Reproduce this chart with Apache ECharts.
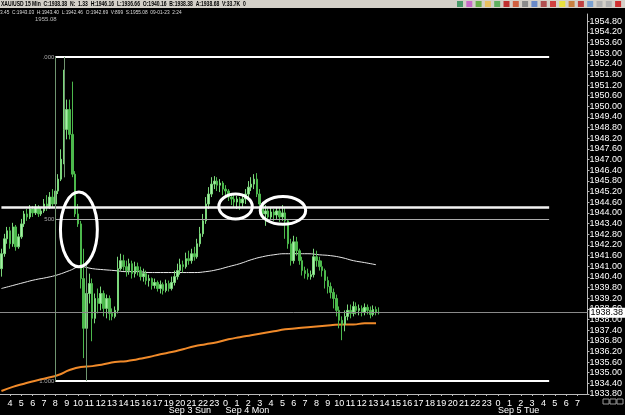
<!DOCTYPE html>
<html><head><meta charset="utf-8">
<script src="https://cdn.jsdelivr.net/npm/echarts@6/dist/echarts.min.js"></script>
<style>html,body{margin:0;padding:0;background:#000;}#c{width:625px;height:415px;}</style>
</head><body><div id="c"></div>
<script>
// ---- tick labels ----
const hourTicks = [4,5,6,7,8,9,10,11,12,13,14,15,16,17,19,20,21,22,23,
  0,1,2,3,4,5,6,7,8,9,10,11,12,13,14,15,16,17,18,19,20,21,22,23,
  0,1,2,3,4,5,6,7];
const dayLabels = ['Sep 3 Sun','Sep 4 Mon','Sep 5 Tue'];
const dayStartTick = [14, 19, 43];
const yMin = 1933.8, yMax = 1955.2, yStep = 0.6;

// ---- 15-min candles ----
const openP = [
1940.86,1941.70,1942.54,1942.99,1942.26,1943.21,1942.09,1942.65,1943.38,1943.94,
1943.77,1944.22,1944.00,1944.33,1943.94,1944.11,1944.50,1944.33,1944.89,1944.50,
1945.23,1945.90,1947.02,1948.70,1949.82,1948.42,1946.18,1943.94,1943.38,1940.30,
1937.50,1939.46,1940.02,1938.06,1939.18,1938.90,1939.46,1938.62,1939.18,1938.34,
1938.17,1938.51,1940.86,1941.31,1940.97,1940.75,1941.14,1940.58,1940.97,1940.75,
1940.41,1940.58,1940.19,1940.30,1939.91,1940.08,1939.74,1939.96,1939.63,1940.02,
1939.74,1940.08,1940.41,1940.75,1941.08,1940.97,1941.42,1941.31,1941.70,1941.53,
1942.26,1942.82,1943.55,1944.50,1945.06,1945.62,1945.79,1945.56,1945.68,1945.34,
1945.23,1944.89,1944.78,1944.61,1944.78,1944.56,1944.78,1945.06,1945.45,1945.62,
1945.90,1945.06,1944.50,1943.94,1944.11,1943.77,1944.05,1943.88,1944.11,1943.77,
1944.00,1943.55,1942.26,1941.31,1942.37,1941.87,1941.31,1940.75,1940.58,1940.41,
1940.52,1941.53,1941.31,1940.97,1940.75,1940.19,1939.85,1939.52,1939.18,1938.51,
1937.95,1937.72,1938.17,1938.51,1938.34,1938.73,1938.51,1938.62,1938.40,1938.68,
1938.51,1938.28,1938.56,1938.40];
const closeP = [
1941.70,1942.54,1942.99,1942.26,1943.21,1942.09,1942.65,1943.38,1943.94,1943.77,
1944.22,1944.00,1944.33,1943.94,1944.11,1944.50,1944.33,1944.89,1944.50,1945.23,
1945.90,1947.02,1948.70,1949.82,1948.42,1946.18,1943.94,1943.38,1940.30,1937.50,
1939.46,1940.02,1938.06,1939.18,1938.90,1939.46,1938.62,1939.18,1938.34,1938.17,
1938.51,1940.86,1941.31,1940.97,1940.75,1941.14,1940.58,1940.97,1940.75,1940.41,
1940.58,1940.19,1940.30,1939.91,1940.08,1939.74,1939.96,1939.63,1940.02,1939.74,
1940.08,1940.41,1940.75,1941.08,1940.97,1941.42,1941.31,1941.70,1941.53,1942.26,
1942.82,1943.55,1944.50,1945.06,1945.62,1945.79,1945.56,1945.68,1945.34,1945.23,
1944.89,1944.78,1944.61,1944.78,1944.56,1944.78,1945.06,1945.45,1945.62,1945.90,
1945.06,1944.50,1943.94,1944.11,1943.77,1944.05,1943.88,1944.11,1943.77,1944.00,
1943.55,1942.26,1941.31,1942.37,1941.87,1941.31,1940.75,1940.58,1940.41,1940.52,
1941.53,1941.31,1940.97,1940.75,1940.19,1939.85,1939.52,1939.18,1938.51,1937.95,
1937.72,1938.17,1938.51,1938.34,1938.73,1938.51,1938.62,1938.40,1938.68,1938.51,
1938.28,1938.56,1938.40,1938.38];
const lowP = [
1940.41,1941.53,1942.26,1941.98,1942.09,1941.87,1941.98,1942.54,1943.21,1943.55,
1943.66,1943.77,1943.88,1943.77,1943.83,1944.00,1944.11,1944.22,1944.33,1944.39,
1945.06,1945.79,1946.74,1948.14,1948.14,1946.01,1943.77,1943.21,1939.74,1935.82,
1936.94,1938.90,1936.77,1937.78,1938.34,1938.51,1938.17,1938.06,1937.95,1937.95,
1938.06,1938.34,1940.75,1940.75,1940.41,1940.52,1940.30,1940.36,1940.47,1940.19,
1940.13,1939.96,1939.85,1939.68,1939.74,1939.57,1939.46,1939.40,1939.52,1939.57,
1939.63,1939.91,1940.24,1940.52,1940.64,1940.86,1941.08,1941.14,1941.31,1941.42,
1942.09,1942.65,1943.38,1944.22,1944.89,1945.34,1945.23,1945.17,1945.00,1944.89,
1944.67,1944.44,1944.33,1944.22,1944.16,1944.33,1944.50,1944.78,1945.23,1945.34,
1944.89,1944.05,1943.66,1943.27,1943.55,1943.60,1943.55,1943.66,1943.49,1943.55,
1942.54,1941.98,1941.03,1941.14,1941.59,1941.08,1940.47,1940.30,1940.24,1940.24,
1940.36,1940.97,1940.75,1940.41,1939.74,1939.46,1939.18,1938.62,1938.17,1937.50,
1936.83,1937.33,1937.95,1938.06,1938.17,1938.28,1938.23,1938.17,1938.23,1938.28,
1938.06,1938.17,1938.23,1938.28];
const highP = [
1941.98,1942.82,1943.21,1943.21,1943.44,1943.32,1942.82,1943.66,1944.11,1944.22,
1944.44,1944.39,1944.50,1944.44,1944.33,1944.78,1945.00,1945.17,1945.34,1945.62,
1946.18,1947.58,1952.06,1950.38,1950.38,1951.39,1946.35,1944.50,1943.55,1941.98,
1940.02,1940.58,1940.30,1939.46,1939.74,1939.85,1939.63,1939.40,1939.35,1938.62,
1938.73,1941.53,1941.70,1941.64,1941.31,1941.42,1941.31,1941.25,1941.20,1940.97,
1940.86,1940.75,1940.52,1940.36,1940.30,1940.19,1940.19,1940.08,1940.24,1940.19,
1940.41,1940.75,1941.14,1941.42,1941.31,1941.76,1941.87,1941.98,1942.09,1942.54,
1943.21,1943.94,1944.89,1945.45,1946.01,1946.07,1946.01,1945.90,1945.79,1945.56,
1945.34,1945.06,1945.00,1944.95,1944.89,1945.00,1945.34,1945.79,1946.01,1946.18,
1946.24,1945.34,1944.61,1944.44,1944.33,1944.28,1944.22,1944.33,1944.28,1944.44,
1944.33,1943.66,1942.54,1942.71,1942.65,1941.98,1941.53,1940.97,1940.86,1940.75,
1941.98,1941.87,1941.53,1941.31,1940.86,1940.41,1940.08,1939.74,1939.40,1938.73,
1938.17,1938.51,1938.84,1938.84,1939.01,1938.96,1938.84,1938.79,1938.90,1938.84,
1938.73,1938.79,1938.73,1938.68];

// ---- moving averages, sampled once per hour ----
const maStep = 4;
const maWhite = [
1939.74,1939.91,1940.08,1940.24,1940.36,1940.52,1940.75,1940.97,1940.86,1940.80,
1940.75,1940.69,1940.69,1940.64,1940.64,1940.64,1940.64,1940.64,1940.69,1940.80,
1940.97,1941.14,1941.36,1941.53,1941.64,1941.70,1941.70,1941.70,1941.64,1941.59,
1941.48,1941.31,1941.20,1941.08];
const maOrange = [
1933.97,1934.20,1934.38,1934.55,1934.70,1934.87,1935.15,1935.32,1935.37,1935.48,
1935.60,1935.65,1935.76,1935.88,1936.04,1936.16,1936.32,1936.49,1936.60,1936.72,
1936.88,1937.00,1937.11,1937.22,1937.33,1937.44,1937.50,1937.56,1937.61,1937.67,
1937.72,1937.72,1937.78,1937.78];

// ---- drawing objects ----
const bidPrice = 1938.38;
const fibHigh = 1952.78, fibLow = 1934.53, fibMid = 1943.655;
const userLine = 1944.33;
const fibStart = 19, fibEnd = 193, userStart = 0;
const vLineSlots = [19, 22, 30];
const vLineFrom = [1952.78, 1952.78, 1941.25];
const vLineTo = [1934.53, 1946.0, 1934.53];
const ringSlot = [27.3, 82.5, 99.2];
const ringPrice = [1943.07, 1944.36, 1944.14];
const ringHalfSlots = [6.5, 5.9, 8.0];
const ringHalfPrice = [2.1, 0.7, 0.78];

const titleLine1 = 'XAU/USD 15 Min  C:1938.38  N:  1.33  H:1946.16  L:1936.66  O:1940.16  B:1938.38  A:1938.68  V:33.7K  0';
const titleLine2 = '3.45  C:1943.03  H:1943.40  L:1942.46  O:1942.69  V:899  S:1955.08  09-01-23  2:24';
const topPriceText = '1955.08';
const iconColors = ['#4a9a6a','#c86ac8','#6ab04a','#e8c060','#60b060','#c03030','#d06040','#8a8a8a','#6a8ac8','#b05050','#d04040','#e8e040','#c88040','#c04040','#7aa0d0','#b0b0b0','#b0b0b0','#d03030'];

const FONT = 'Liberation Sans';
const LEAD = 3, PER_HOUR = 4;
const nSlots = LEAD + hourTicks.length * PER_HOUR;
const slotKeys = [], slotLabel = [], slotDay = [];
for (let s = 0; s < nSlots; s++) { slotKeys.push('s' + s); slotLabel.push(''); slotDay.push(''); }
hourTicks.forEach((h, k) => { slotLabel[LEAD + k * PER_HOUR] = String(h); });
dayStartTick.forEach((t, k) => { slotDay[LEAD + t * PER_HOUR] = dayLabels[k]; });

const candles = openP.map((o, i) => [o, closeP[i], lowP[i], highP[i]]);

const fibLabel = (txt) => ({ show: true, position: 'start', formatter: txt, color: '#aaa', fontSize: 6, distance: 1, fontFamily: FONT });
const mlData = [
  [{ coord: [fibStart, fibHigh], lineStyle: { color: '#fff', width: 2 }, label: fibLabel('.000') }, { coord: [fibEnd, fibHigh] }],
  [{ coord: [fibStart, fibMid], lineStyle: { color: '#aaa', width: 1 }, label: fibLabel('500') }, { coord: [fibEnd, fibMid] }],
  [{ coord: [fibStart, fibLow], lineStyle: { color: '#fff', width: 2 }, label: fibLabel('1.000') }, { coord: [fibEnd, fibLow] }],
  [{ coord: [userStart, userLine], lineStyle: { color: '#f2f2f2', width: 2.5 } }, { coord: [fibEnd, userLine] }]
];
vLineSlots.forEach((s, k) => {
  mlData.push([{ coord: [s, vLineFrom[k]], lineStyle: { color: '#6f946f', width: 1 } }, { coord: [s, vLineTo[k]] }]);
});
mlData.push({ yAxis: bidPrice, lineStyle: { color: '#8a8a8a', width: 1 },
  label: { show: true, position: 'end', formatter: bidPrice.toFixed(2), backgroundColor: '#fff', color: '#000',
    fontSize: 9, padding: [1, 2, 0, 1], distance: 2, fontFamily: FONT } });

const chart = echarts.init(document.getElementById('c'));
chart.setOption({
  backgroundColor: '#000',
  animation: false,
  grid: { left: 0, right: 33, top: 14, bottom: 19 },
  xAxis: [
    { type: 'category', data: slotKeys, boundaryGap: true,
      axisLine: { show: true, lineStyle: { color: '#bbb', width: 1 } },
      axisTick: { show: true, length: 2, alignWithLabel: true, interval: (i) => slotLabel[i] !== '', lineStyle: { color: '#bbb' } },
      axisLabel: { interval: (i) => slotLabel[i] !== '', formatter: (v, i) => slotLabel[i], color: '#fff', fontSize: 9, margin: 5, fontFamily: FONT },
      splitLine: { show: false } },
    { type: 'category', data: slotKeys, position: 'bottom', boundaryGap: true,
      axisLine: { show: false }, axisTick: { show: false }, splitLine: { show: false },
      axisLabel: { interval: (i) => slotDay[i] !== '', formatter: (v, i) => slotDay[i], color: '#fff', fontSize: 9, margin: 12, align: 'left', fontFamily: FONT } }
  ],
  yAxis: { type: 'value', position: 'right', min: yMin, max: yMax, interval: yStep,
    axisLine: { show: true, lineStyle: { color: '#bbb' } },
    axisTick: { show: true, length: 2, lineStyle: { color: '#bbb' } },
    axisLabel: { color: '#fff', fontSize: 9, margin: 2, formatter: (v) => v.toFixed(2), showMaxLabel: false, fontFamily: FONT },
    splitLine: { show: false } },
  series: [
    { type: 'line', data: maWhite.map((v, k) => [k * maStep, v]), showSymbol: false, smooth: true,
      lineStyle: { color: '#e8e8e8', width: 1 }, z: 1 },
    { type: 'line', data: maOrange.map((v, k) => [k * maStep, v]), showSymbol: false, smooth: true,
      lineStyle: { color: '#f08a2a', width: 2 }, z: 1 },
    { type: 'candlestick', data: candles, barWidth: 2, z: 3,
      itemStyle: { color: '#a8eea8', color0: '#4cb84c', borderColor: '#7cd87c', borderColor0: '#4cb84c', borderWidth: 1 },
      markLine: { silent: true, symbol: ['none', 'none'], animation: false, label: { show: false },
        lineStyle: { type: 'solid' }, data: mlData } }
  ]
});

const xA = chart.convertToPixel({ xAxisIndex: 0 }, slotKeys[0]);
const xB = chart.convertToPixel({ xAxisIndex: 0 }, slotKeys[100]);
const px = (s) => xA + (xB - xA) * s / 100;
const py = (p) => chart.convertToPixel({ yAxisIndex: 0 }, p);

const g = [];
ringSlot.forEach((s, k) => {
  const cx = px(s), cy = py(ringPrice[k]);
  g.push({ type: 'ellipse', shape: { cx: cx, cy: cy, rx: px(s + ringHalfSlots[k]) - cx, ry: py(ringPrice[k] - ringHalfPrice[k]) - cy },
    style: { fill: 'none', stroke: '#fff', lineWidth: 3 }, z: 100 });
});
g.push({ type: 'rect', shape: { x: 0, y: 0, width: 625, height: 8 }, style: { fill: '#d4d0c8' }, z: 100 });
g.push({ type: 'text', x: 1, y: 4, scaleX: 0.72, style: { text: titleLine1, fill: '#000', fontSize: 7, fontWeight: 'bold', fontFamily: FONT, verticalAlign: 'middle' }, z: 101 });
iconColors.forEach((c, k) => {
  g.push({ type: 'rect', shape: { x: 457 + k * 9.3, y: 1, width: 6, height: 6 }, style: { fill: c }, z: 101 });
});
g.push({ type: 'text', x: 0, y: 12, scaleX: 0.8, style: { text: titleLine2, fill: '#ddd', fontSize: 6, fontFamily: FONT, verticalAlign: 'middle' }, z: 101 });
g.push({ type: 'text', x: 35, y: 19, style: { text: topPriceText, fill: '#bbb', fontSize: 6, fontFamily: FONT, verticalAlign: 'middle' }, z: 101 });
[0, 1, 2].forEach((k) => {
  g.push({ type: 'rect', shape: { x: 603 + k * 7, y: 399, width: 6, height: 5 }, style: { fill: 'none', stroke: '#999', lineWidth: 1 }, z: 101 });
});
chart.setOption({ graphic: g });
</script>
</body></html>
